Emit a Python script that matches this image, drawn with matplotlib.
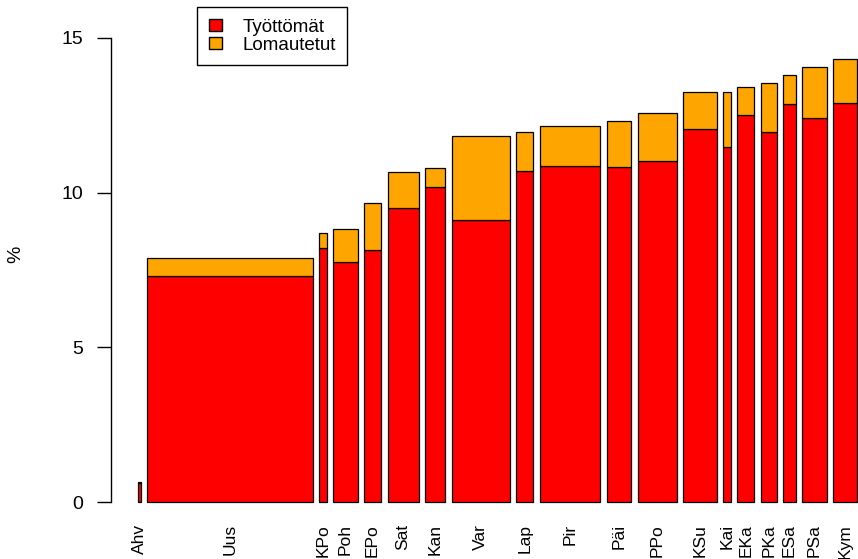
import matplotlib
matplotlib.use('Agg')
import matplotlib.pyplot as plt
from matplotlib.patches import Patch
import numpy as np

plt.rcParams['font.family'] = ['Liberation Sans', 'DejaVu Sans']

# --- data: maakunnat, työvoima (tuhatta, pylvään leveys) ja osuudet (%) ---
maakunnat = ['Ahv', 'Uus', 'KPo', 'Poh', 'EPo', 'Sat', 'Kan', 'Var', 'Lap', 'Pir',
             'Päi', 'PPo', 'KSu', 'Kai', 'EKa', 'PKa', 'ESa', 'PSa', 'Kym']
tyovoima = [13, 894, 42, 132, 94, 167, 110, 315, 92, 328,
            133, 211, 180, 43, 93, 86, 70, 130, 132]
tyottomat = [0.62, 7.32, 8.21, 7.77, 8.15, 9.49, 10.18, 9.13, 10.71, 10.86,
             10.82, 11.01, 12.05, 11.48, 12.52, 11.96, 12.88, 12.41, 12.90]
lomautetut = [0.04, 0.56, 0.50, 1.05, 1.51, 1.17, 0.61, 2.69, 1.26, 1.30,
              1.51, 1.56, 1.20, 1.78, 0.91, 1.60, 0.93, 1.64, 1.42]

colors = ['#FF0000', '#FFA500']

# R barplot -tyyliset paikat: space = 0.2 * mean(width)
w = np.array(tyovoima, dtype=float)
sp = 0.2 * w.mean()
left = np.cumsum(sp + w) - w
centers = left + w / 2
total = left[-1] + w[-1]
span = total - sp

fig = plt.figure(figsize=(8.58, 5.59), dpi=100)
ax_w = 1.08 * 719 / 858
ax = fig.add_axes([111 / 858, 0.0687, ax_w, 0.8966])

ax.bar(left, tyottomat, width=w, align='edge', color=colors[0],
       edgecolor='black', linewidth=0.9)
ax.bar(left, lomautetut, width=w, align='edge', bottom=tyottomat,
       color=colors[1], edgecolor='black', linewidth=0.9)

ax.set_xlim(sp - 0.038 * span, total + 0.042 * span)
ax.set_ylim(-0.6, 15.6)

for s in ['top', 'right', 'bottom']:
    ax.spines[s].set_visible(False)
ax.spines['left'].set_bounds(0, 15)
ax.spines['left'].set_linewidth(1)

ax.set_yticks([0, 5, 10, 15])
ax.tick_params(axis='y', length=10, width=1, pad=10, labelsize=14)
ax.set_xticks(centers)
ax.set_xticklabels(maakunnat, rotation=90, ha='center', va='top', fontsize=12.5)
ax.tick_params(axis='x', length=0, pad=2.5)

fig.text(16 / 858, 1 - 254 / 559, '%', rotation=90, ha='center', va='center', fontsize=14)

handles = [Patch(facecolor=colors[0], edgecolor='black', label='Työttömät'),
           Patch(facecolor=colors[1], edgecolor='black', label='Lomautetut')]
fig.legend(handles=handles, loc='upper left', bbox_to_anchor=(197 / 858, 1 - 7 / 559),
           bbox_transform=fig.transFigure, fancybox=False, edgecolor='black',
           framealpha=1, fontsize=13.5, handlelength=0.7, handleheight=0.55,
           handletextpad=1.1, borderpad=0.62, labelspacing=0.05, borderaxespad=0)

fig.savefig('out.png', dpi=100)
